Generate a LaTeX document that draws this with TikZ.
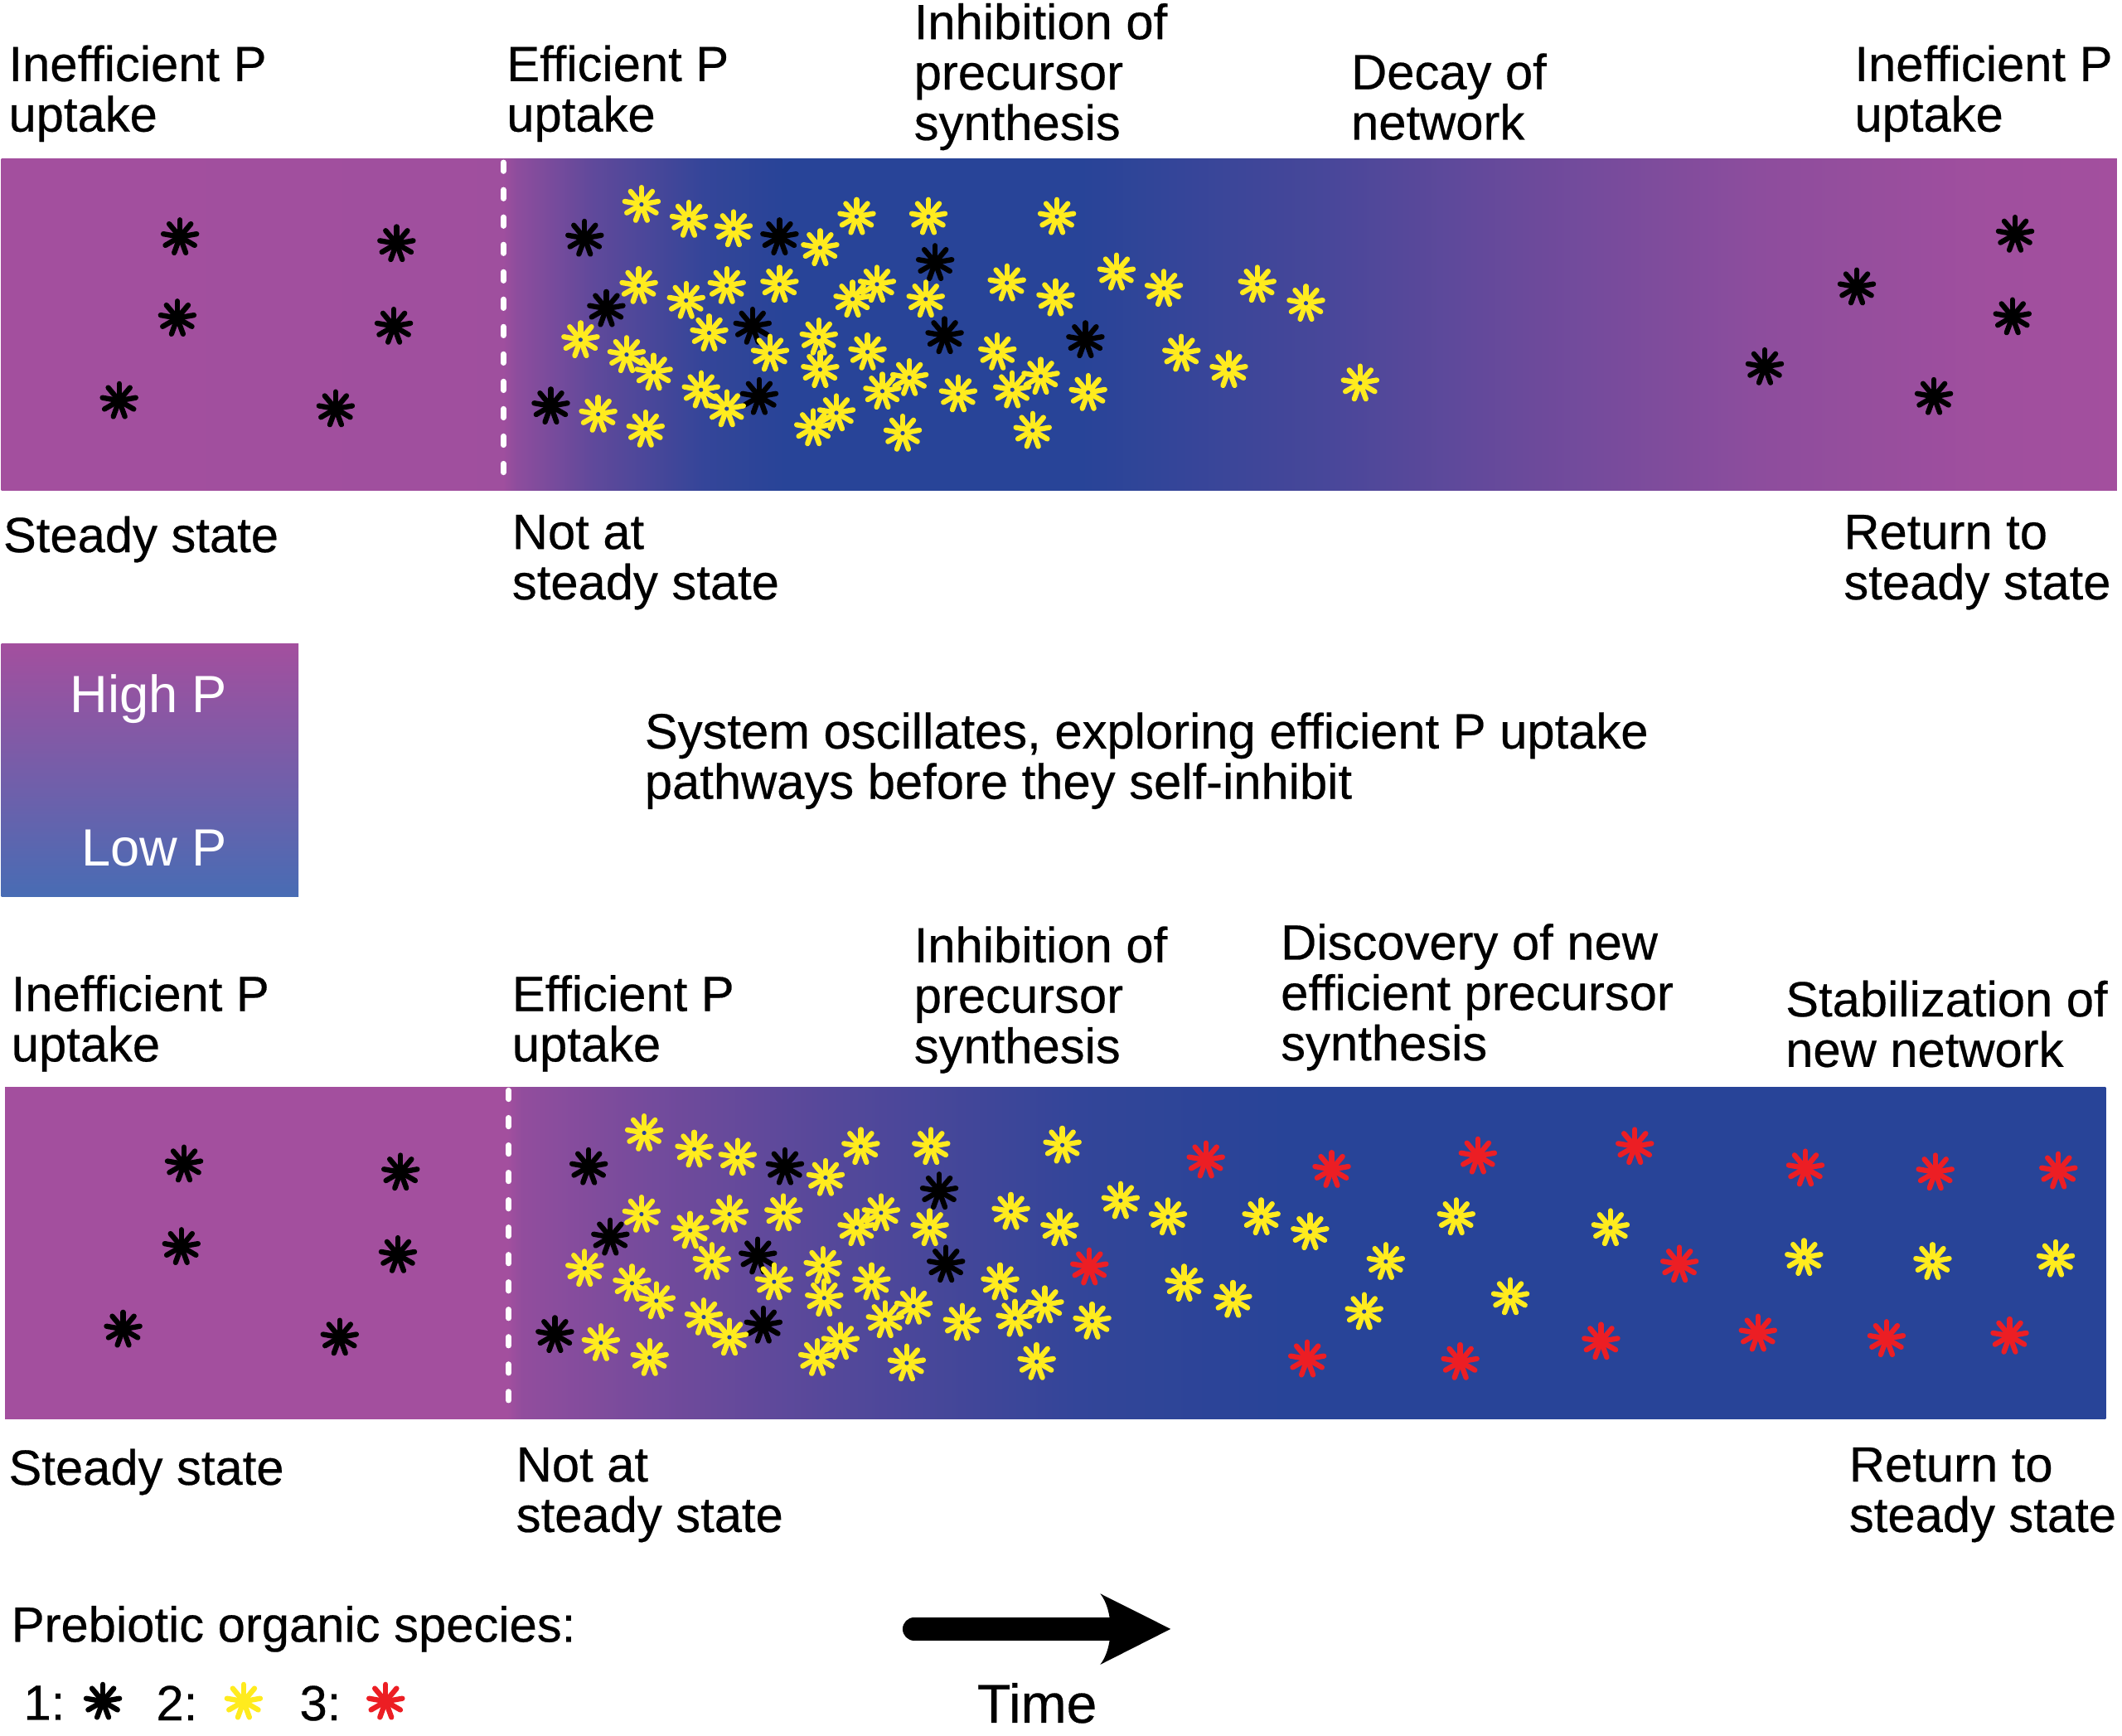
\documentclass[tikz,border=0pt]{standalone}
\usepackage{fontspec}
\setmainfont{Liberation Sans}[BoldFont={Liberation Sans}, BoldFeatures={FakeBold=0.4}]
\usepackage{tikz}

\definecolor{pmag}{RGB}{163,79,158}
\definecolor{pblue}{RGB}{40,68,152}
\definecolor{lowblue}{RGB}{72,108,180}
\definecolor{specyellow}{RGB}{255,235,30}
\definecolor{specred}{RGB}{236,30,36}
\colorlet{pmixA}{pmag!97!pblue}
\colorlet{pmixB}{pmag!82!pblue}
\colorlet{pmixC}{pmag!45!pblue}
\colorlet{pmixD}{pmag!10!pblue}
\colorlet{pmixE}{pmag!26!pblue}
\colorlet{pmixF}{pmag!55!pblue}
\colorlet{pmixG}{pmag!62!pblue}
\colorlet{pmixH}{pmag!37!pblue}
\colorlet{pmixI}{pmag!9!pblue}
\colorlet{pmixJ}{pmag!86!pblue}

\pgfdeclarehorizontalshading{topband}{100bp}{color(0bp)=(pmag); color(25bp)=(pmag);
  color(36.85bp)=(pmixA); color(37.2bp)=(pmixB); color(39bp)=(pmixC); color(41.6bp)=(pmixD);
  color(43.5bp)=(pblue); color(50.5bp)=(pblue); color(56.3bp)=(pmixE); color(61.1bp)=(pmixF);
  color(66.5bp)=(pmixB); color(71.7bp)=(pmixA); color(75bp)=(pmag); color(100bp)=(pmag)}
\pgfdeclarehorizontalshading{bottomband}{100bp}{color(0bp)=(pmag); color(25bp)=(pmag);
  color(36.95bp)=(pmag); color(37.3bp)=(pmixJ); color(40.3bp)=(pmixG); color(44.6bp)=(pmixH);
  color(50.5bp)=(pmixI); color(55.5bp)=(pblue); color(100bp)=(pblue)}

\tikzset{
  lbl/.style={anchor=north west, inner sep=0pt, align=left, font=\fontsize{17}{17.3}\selectfont\bfseries},
  cutline/.style={white, line width=1.9pt, line cap=round, dash pattern=on 3pt off 6.4pt},
  spark/.pic={
    \foreach \a in {270,310,...,590}
      \draw[line width=1.8pt, line cap=round] (0,0) -- (\a:12.5);
    \fill (0,0) circle[radius=0.75mm];
  },
  sparkhole/.pic={
    \foreach \a in {270,310,...,590}
      \draw[line width=1.8pt, line cap=round] (0,0) -- (\a:12.5);
    \fill (0,0) circle[radius=0.75mm];
    \fill[pblue] (0,0) circle[radius=0.26mm];
  },
}

\begin{document}
\begin{tikzpicture}[x=0.1633mm, y=-0.1633mm]
\useasboundingbox (0,0) rectangle (1568,1282.5);

\shade[shading=topband] (1,117.6) rectangle (1564.3,362.5);
\shade[shading=bottomband] (3.7,803.2) rectangle (1556,1048.2);
\shade[top color=pmag, bottom color=lowblue] (1,475.6) rectangle (220.5,662.4);

\coordinate (cut1top) at (372,120);
\coordinate (cut1bot) at (372,362.5);
\coordinate (cut2top) at (375.8,805.6);
\coordinate (cut2bot) at (375.8,1048.2);
\draw[cutline] (cut1top) -- (cut1bot);
\draw[cutline] (cut2top) -- (cut2bot);

\foreach \x/\y in {133/175,293/180,131/235,291/241,88/296,248/302,
    432/176,576/175,691/194,448/228,556/241,698/248,802/251,407/300,561/293,
    1489/173,1372/212,1487/234,1304/271,1429/293}
  \pic[black] at (\x,\y) {spark};
\foreach \x/\y in {474/151,509/162,542/169,606/183,633/160,686/160,781/160,
    472/211,507/222,537/211,576/210,630/221,648/210,684/221,744/209,780/220,825/201,860/213,929/210,965/224,
    429/251,524/246,605/249,463/262,483/275,569/261,641/260,606/273,737/260,873/261,908/273,
    518/288,537/302,652/289,672/279,708/291,748/288,769/278,804/290,
    442/306,477/317,601/316,618/305,667/320,763/318,1005/283}
  \pic[specyellow] at (\x,\y) {sparkhole};

\foreach \x/\y in {136/860,296/866,134/921,294/927,91/982,251/988,
    435/862,580/862,694/880,451/914,560/928,699/934,410/986,564/979}
  \pic[black] at (\x,\y) {spark};
\foreach \x/\y in {476/837,513/849,545/855,610/870,636/847,688/847,785/846,
    474/897,510/909,539/897,579/896,633/907,651/896,687/907,747/895,783/907,828/887,863/899,932/899,968/910,
    432/937,526/932,608/935,467/948,485/961,572/947,644/947,609/959,739/947,875/948,911/960,
    520/973,539/988,654/975,675/965,711/977,750/974,772/964,807/976,
    444/992,480/1003,604/1003,621/991,670/1007,766/1006,
    1076/899,1024/932,1008/969,1116/958,1190/907,1333/929,1428/932,1519/930}
  \pic[specyellow] at (\x,\y) {sparkhole};
\foreach \x/\y in {891/857,984/864,1092/854,1208/847,1334/863,1430/866,1521/865,
    805/936,1241/934,966/1004,1079/1006,1183/991,1299/985,1394/989,1485/987}
  \pic[specred] at (\x,\y) {spark};

\node[lbl] (ineffA) at (6,33) {Inefficient P\\uptake};
\node[lbl] (effA) at (374,33) {Efficient P\\uptake};
\node[lbl] (inhibA) at (675,2) {Inhibition of\\precursor\\synthesis};
\node[lbl] (decay) at (998,39) {Decay of\\network};
\node[lbl] (ineffB) at (1370,33) {Inefficient P\\uptake};
\node[lbl] (steadyA) at (2,381) {Steady state};
\node[lbl] (notsteadyA) at (378,380) {Not at\\steady state};
\node[lbl] (returnA) at (1362,380) {Return to\\steady state};

\node[anchor=base east, inner sep=0pt, white, font=\fontsize{18}{18}\selectfont] (highp) at (168.4,526.6) {High P};
\node[anchor=base east, inner sep=0pt, white, font=\fontsize{18}{18}\selectfont] (lowp) at (168.4,640) {Low P};
\node[lbl] (oscillates) at (476,526) {System oscillates, exploring efficient P uptake\\pathways before they self-inhibit};

\node[lbl] (ineffC) at (8,720) {Inefficient P\\uptake};
\node[lbl] (effC) at (378,720) {Efficient P\\uptake};
\node[lbl] (inhibC) at (675,684) {Inhibition of\\precursor\\synthesis};
\node[lbl] (discovery) at (946,682) {Discovery of new\\efficient precursor\\synthesis};
\node[lbl] (stabilize) at (1319,724) {Stabilization of\\new network};
\node[lbl] (steadyC) at (6,1070) {Steady state};
\node[lbl] (notsteadyC) at (381,1069) {Not at\\steady state};
\node[lbl] (returnC) at (1366,1069) {Return to\\steady state};

\node[lbl] (species) at (8,1186) {Prebiotic organic species:};
\node[lbl] (one) at (17,1245) {1:};
\node[lbl] (two) at (115,1245) {2:};
\node[lbl] (three) at (221,1245) {3:};
\pic[black] at (76,1257) {spark};
\pic[specyellow] at (180,1257) {spark};
\pic[specred] at (285,1257) {spark};

\coordinate (timetail) at (675.5,1203.5);
\coordinate (timetip) at (865,1203.5);
\draw[line width=2.78mm, line cap=round] (timetail) -- (821,1203.5);
\fill (timetip) -- (813,1177.4) .. controls (823,1190) and (823,1217) .. (813,1229.8) -- cycle;
\node[lbl, font=\fontsize{18.8}{18.8}\selectfont\bfseries] (time) at (721.7,1243) {Time};
\end{tikzpicture}
\end{document}
